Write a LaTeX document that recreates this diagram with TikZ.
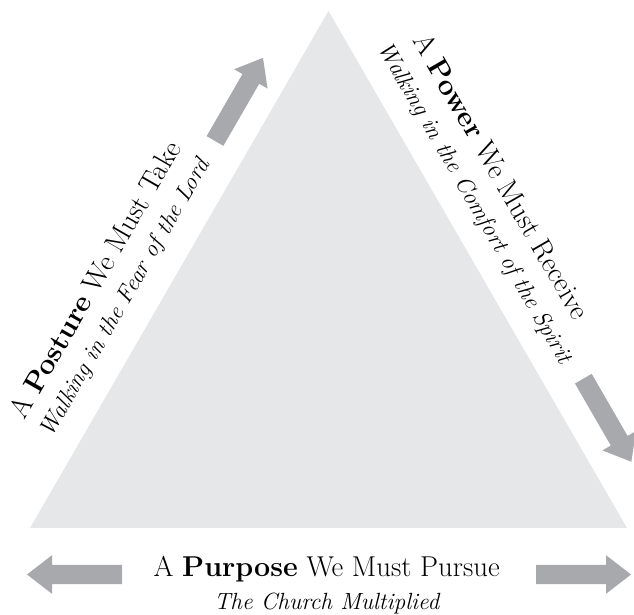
\documentclass[tikz,border=0pt]{standalone}
\usepackage{fontspec}
\usepackage{amsmath}
\usepackage{amssymb}
\usepackage{tikz}

\definecolor{trifill}{HTML}{E6E7E8}
\definecolor{arrowgray}{HTML}{A7A9AC}

\begin{document}
\begin{tikzpicture}[
  titletext/.style={black,font=\fontsize{24.5}{29}\selectfont,inner sep=0pt,anchor=base},
  subtext/.style={black,font=\fontsize{20}{24}\selectfont\itshape,inner sep=0pt,anchor=base}]

\useasboundingbox (0,0) rectangle (19.02,18.45);

\coordinate (bl) at (0.9,2.61);
\coordinate (br) at (18.81,2.61);
\coordinate (top) at (9.855,18.12);


\fill[trifill] (bl) -- (br) -- (top) -- cycle;



\fill[arrowgray,shift={(6.45,14.22)},rotate=60] (0,-0.29) -- (2.15,-0.29) -- (2.15,-0.58) -- (2.88,0) -- (2.15,0.58) -- (2.15,0.29) -- (0,0.29) -- cycle;

\fill[arrowgray,shift={(17.5,7.09)},rotate=-60] (0,-0.29) -- (2.15,-0.29) -- (2.15,-0.58) -- (2.88,0) -- (2.15,0.58) -- (2.15,0.29) -- (0,0.29) -- cycle;

\fill[arrowgray,shift={(3.66,1.215)},rotate=180] (0,-0.29) -- (2.1,-0.29) -- (2.1,-0.58) -- (2.85,0) -- (2.1,0.58) -- (2.1,0.29) -- (0,0.29) -- cycle;

\fill[arrowgray,shift={(16.08,1.215)}] (0,-0.29) -- (2.1,-0.29) -- (2.1,-0.58) -- (2.85,0) -- (2.1,0.58) -- (2.1,0.29) -- (0,0.29) -- cycle;



\path (bl) -- (top) node[titletext,sloped,pos=0.415,yshift=1.75cm] (posture) {A \textbf{Posture} We Must Take};
\path (bl) -- (top) node[subtext,sloped,pos=0.413,yshift=0.78cm] (fear) {Walking in the Fear of the Lord};

\path (top) -- (br) node[titletext,sloped,pos=0.385,yshift=1.72cm] (power) {A \textbf{Power} We Must Receive};
\path (top) -- (br) node[subtext,sloped,pos=0.401,yshift=0.72cm] (comfort) {Walking in the Comfort of the Spirit};


\node[titletext] (purpose) at (9.8,1.15) {A \textbf{Purpose} We Must Pursue};
\node[subtext] (church) at (9.8,0.15) {The Church Multiplied};


\end{tikzpicture}
\end{document}
